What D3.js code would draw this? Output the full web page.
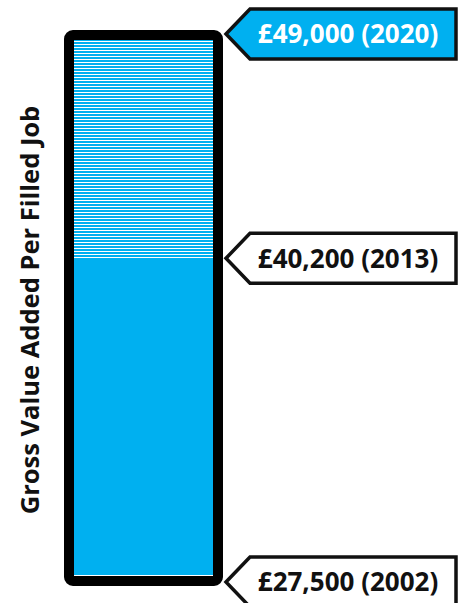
<!DOCTYPE html>
<html>
<head>
<meta charset="utf-8">
<script src="https://cdn.jsdelivr.net/npm/d3@7"></script>
<style>
  body { margin: 0; background: #fff; }
  svg { display: block; }
  text { font-family: "Open Sans", Lato, sans-serif; font-weight: bold; }
</style>
</head>
<body>
<script>
// values
var labels = ["£27,500 (2002)", "£40,200 (2013)", "£49,000 (2020)"];
var values = [27500, 40200, 49000];
var highlight = [false, false, true];
var axisTitle = "Gross Value Added Per Filled Job";

var width = 459, height = 603;
var blue = "#00B0F0";

var svg = d3.select("body").append("svg")
    .attr("width", width).attr("height", height);

var defs = svg.append("defs");
var pat = defs.append("pattern")
    .attr("id", "stripes")
    .attr("patternUnits", "userSpaceOnUse")
    .attr("width", 6).attr("height", 3);
pat.append("rect").attr("width", 6).attr("height", 3).attr("fill", blue);
pat.append("rect").attr("y", 2).attr("width", 6).attr("height", 1.1).attr("fill", "#fff");

// bar scale (inner fill area) and scale for where callout tips point
var y = d3.scaleLinear()
    .domain([d3.min(values), d3.max(values)])
    .range([575, 40]);
var yTip = d3.scaleLinear()
    .domain([d3.min(values), d3.max(values)])
    .range([582, 34]);

var bar = { x: 69, w: 149 };

// hatched part: latest value down to the middle value
svg.append("rect")
    .attr("x", bar.x).attr("width", bar.w)
    .attr("y", y(values[2]))
    .attr("height", y(values[1]) - y(values[2]))
    .attr("fill", "url(#stripes)");

// solid part: first value up to middle value
svg.append("rect")
    .attr("x", bar.x).attr("width", bar.w)
    .attr("y", y(values[1]))
    .attr("height", y(values[0]) - y(values[1]))
    .attr("fill", blue);

// thick outline
svg.append("rect")
    .attr("x", bar.x).attr("y", y(values[2]) - 5)
    .attr("width", bar.w)
    .attr("height", y(values[0]) - y(values[2]) + 11)
    .attr("rx", 4)
    .attr("fill", "none")
    .attr("stroke", "#000")
    .attr("stroke-width", 10);

// callouts
var tipX = 226, notch = 24, boxR = 456, boxH = 50;

var callout = svg.selectAll("g.callout")
    .data(values)
    .enter().append("g")
    .attr("class", "callout")
    .attr("transform", function(d){ return "translate(0," + yTip(d) + ")"; });

callout.append("path")
    .attr("d", function(){
        var h = boxH / 2;
        return "M" + tipX + ",0L" + (tipX + notch) + "," + (-h) +
               "L" + boxR + "," + (-h) + "L" + boxR + "," + h +
               "L" + (tipX + notch) + "," + h + "Z";
    })
    .attr("fill", function(d, i){ return highlight[i] ? blue : "#fff"; })
    .attr("stroke", "#111")
    .attr("stroke-width", 3.5)
    .attr("stroke-linejoin", "miter");

callout.append("text")
    .attr("x", 348)
    .attr("y", 0)
    .attr("dy", "0.36em")
    .attr("text-anchor", "middle")
    .style("font-size", "26px")
    .attr("fill", function(d, i){ return highlight[i] ? "#fff" : "#111"; })
    .text(function(d, i){ return labels[i]; });

// axis title
svg.append("text")
    .attr("text-anchor", "middle")
    .attr("transform", "translate(39,310)rotate(-90)")
    .style("font-size", "25.5px")
    .attr("fill", "#111")
    .text(axisTitle);
</script>
</body>
</html>
